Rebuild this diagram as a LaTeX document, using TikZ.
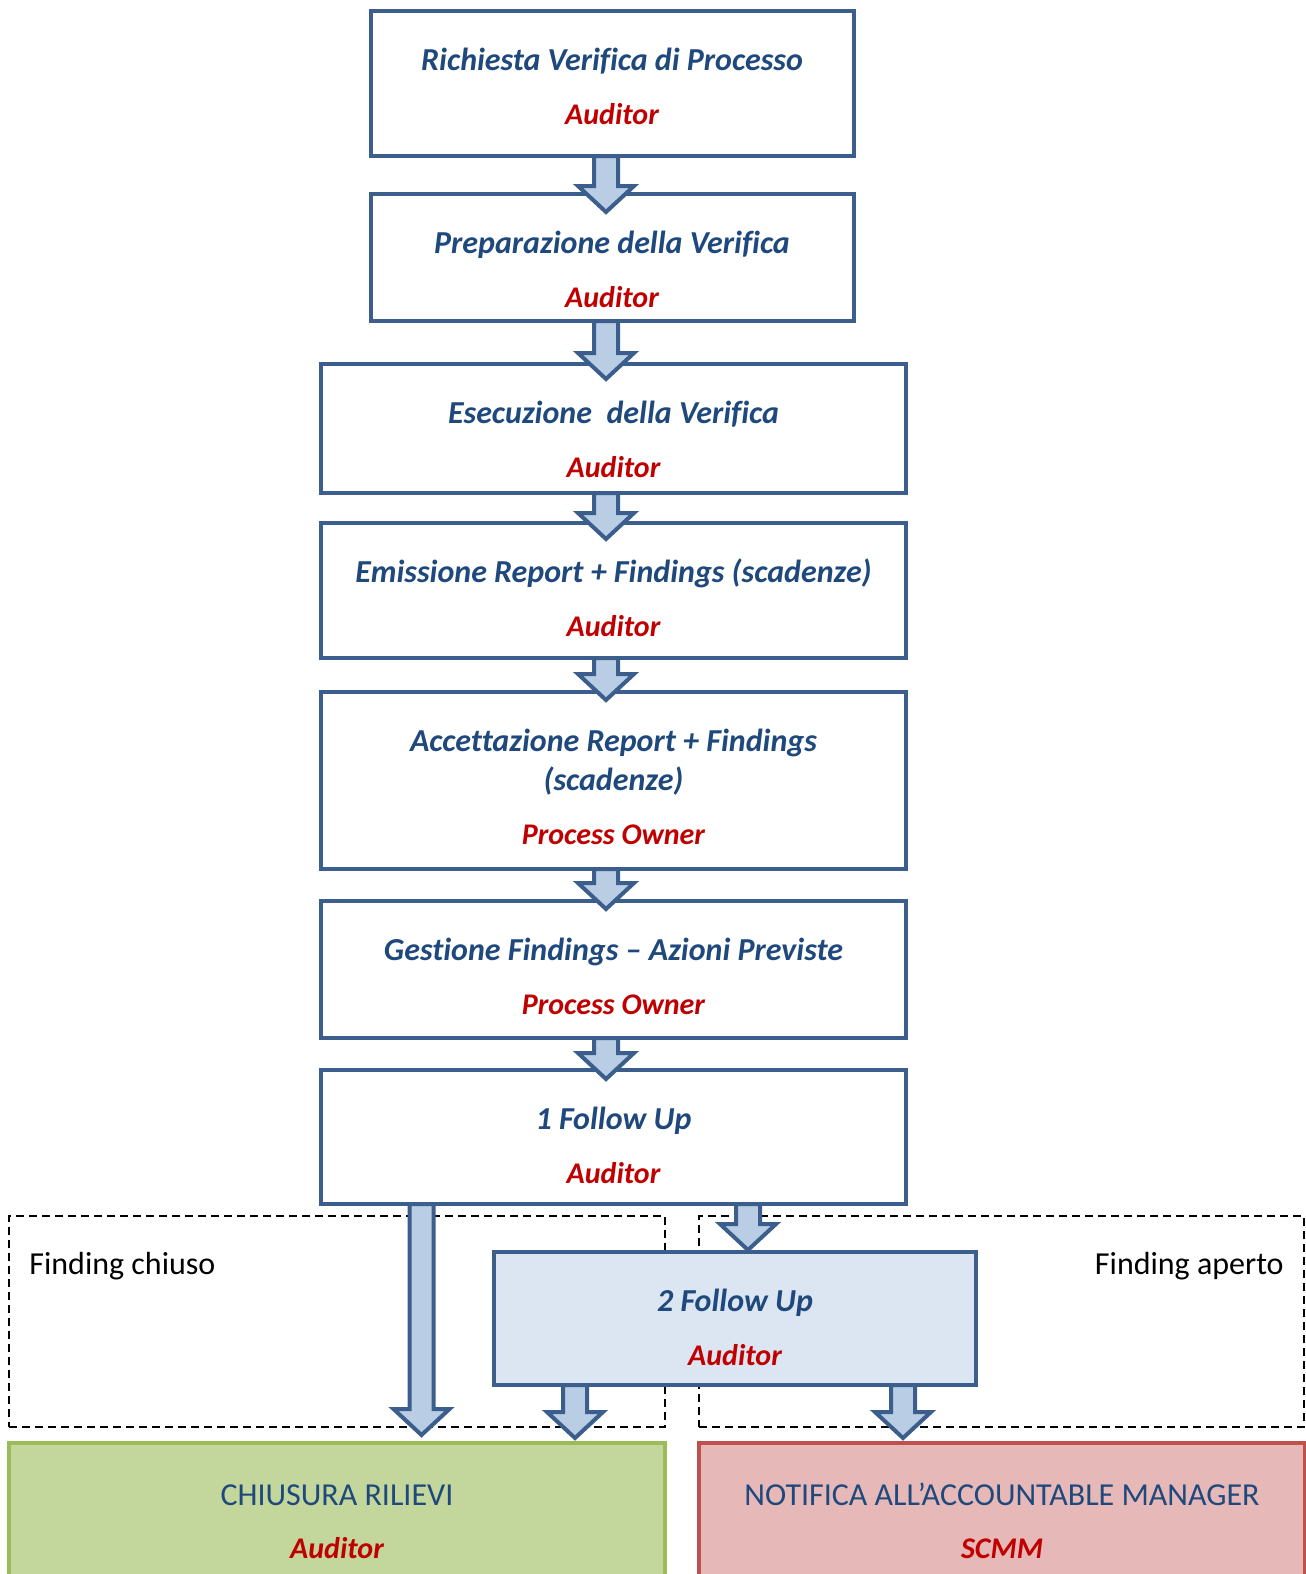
\documentclass[tikz,border=0pt]{standalone}
\usepackage{fontspec}
\setmainfont{Carlito}[Ligatures=CommonOff]
\usetikzlibrary{calc,positioning}

\definecolor{boxblue}{HTML}{3B5E8C}
\definecolor{titleblue}{HTML}{1F497D}
\definecolor{rolered}{HTML}{C00000}
\definecolor{arrowfill}{HTML}{B9CDE5}
\definecolor{lightfill}{HTML}{DCE6F2}
\definecolor{closegreen}{HTML}{9BBB59}
\definecolor{closefill}{HTML}{C3D69B}
\definecolor{openred}{HTML}{C0504D}
\definecolor{openfill}{HTML}{E6B9B8}

\tikzset{
  stepbox/.style={rectangle, draw=boxblue, fill=white, line width=2pt, inner sep=0pt, outer sep=0pt,
    align=center, text=titleblue, text height=56.5pt, font=\bfseries\itshape\fontsize{16}{19.5}\selectfont},
  followbox/.style={stepbox, fill=lightfill},
  outcomebox/.style={rectangle, line width=2pt, inner sep=0pt, outer sep=0pt, align=center, text=titleblue,
    text height=57.5pt, text depth=20pt, font=\fontsize{16}{19.5}\selectfont},
  regionbox/.style={rectangle, draw=black, line width=1pt, dash pattern=on 4pt off 2.5pt, inner sep=0pt},
  regionlabel/.style={inner sep=0pt, font=\fontsize{16}{19.5}\selectfont},
  blockarrow/.style={draw=boxblue, fill=arrowfill, line width=2pt, line join=miter},
}

% title line(s) and the role in red
\newcommand{\steptext}[2]{#1\\[7.5pt]{\fontsize{15}{19.5}\selectfont\color{rolered}#2}}
\newcommand{\outcometext}[2]{#1\\[7pt]{\bfseries\itshape\fontsize{15}{19.5}\selectfont\color{rolered}#2}}

% block arrow: x position, source node, target node, overlap into target
\newcommand{\flowarrow}[4]{%
  \coordinate (fa-top) at (#1,0 |- #2.south);
  \coordinate (fa-tip) at ($(#1,0 |- #3.north)+(0,#4)$);
  \path[blockarrow] let \p1=(fa-top), \p2=(fa-tip) in
    (\x1-6pt,\y1) -- (\x1-6pt,\y2+13pt) -- (\x1-14pt,\y2+13pt) -- (\x2,\y2)
    -- (\x1+14pt,\y2+13pt) -- (\x1+6pt,\y2+13pt) -- (\x1+6pt,\y1) -- cycle;
}

\begin{document}
\begin{tikzpicture}[x=0.5pt, y=-0.5pt]
  \useasboundingbox (0,0) rectangle (1306,1574);
  \clip (0,0) rectangle (1306,1574);

  % main chain
  \node[stepbox, minimum width=241.5pt, text depth=16pt] (request) at (612,83.5)
    {\steptext{Richiesta Verifica di Processo}{Auditor}};
  \node[stepbox, minimum width=241.5pt, text depth=7pt, below=19pt of request] (prepare)
    {\steptext{Preparazione della Verifica}{Auditor}};
  \node[stepbox, minimum width=292.5pt, text depth=8pt, below=21.5pt of prepare, xshift=0.75pt] (execute)
    {\steptext{Esecuzione~ della Verifica}{Auditor}};
  \node[stepbox, minimum width=292.5pt, text depth=11pt, below=15pt of execute] (issue)
    {\steptext{Emissione Report + Findings (scadenze)}{Auditor}};
  \node[stepbox, minimum width=292.5pt, text height=76.4pt, text depth=12.1pt, below=17pt of issue] (accept)
    {Accettazione Report + Findings\\\steptext{(scadenze)}{Process Owner}};
  \node[stepbox, minimum width=292.5pt, text depth=12pt, below=16pt of accept] (manage)
    {\steptext{Gestione Findings -- Azioni Previste}{Process Owner}};
  \node[stepbox, minimum width=292.5pt, text depth=10.5pt, below=16pt of manage] (followone)
    {\steptext{1 Follow Up}{Auditor}};

  % finding regions
  \node[regionbox, minimum width=328pt, minimum height=105.5pt] (closedregion) at (337,1321.5) {};
  \node[regionbox, minimum width=302.5pt, minimum height=105.5pt] (openregion) at (1001.5,1321.5) {};
  \node[regionlabel, anchor=west] (closedlabel) at ($(closedregion.north west)+(21,51)$) {Finding chiuso};
  \node[regionlabel, anchor=east] (openlabel) at ($(openregion.north east)+(-21,51)$) {Finding aperto};

  \node[followbox, minimum width=241pt, text depth=10pt] (followtwo) at (735,1318.5)
    {\steptext{2 Follow Up}{Auditor}};

  % outcomes
  \node[outcomebox, draw=closegreen, fill=closefill, minimum width=328pt] (closing) at (337,1520.5)
    {\outcometext{CHIUSURA RILIEVI}{Auditor}};
  \node[outcomebox, draw=openred, fill=openfill, minimum width=303pt] (notify) at (1002,1520.5)
    {\outcometext{NOTIFICA ALL’ACCOUNTABLE MANAGER}{SCMM}};

  % arrows
  \flowarrow{606}{request}{prepare}{18}
  \flowarrow{606}{prepare}{execute}{15}
  \flowarrow{606}{execute}{issue}{16}
  \flowarrow{606}{issue}{accept}{8}
  \flowarrow{606}{accept}{manage}{8}
  \flowarrow{606}{manage}{followone}{9}
  \flowarrow{748}{followone}{followtwo}{-2}
  \flowarrow{421.5}{followone}{closing}{-8}
  \flowarrow{575}{followtwo}{closing}{-5}
  \flowarrow{903}{followtwo}{notify}{-5}
\end{tikzpicture}
\end{document}
